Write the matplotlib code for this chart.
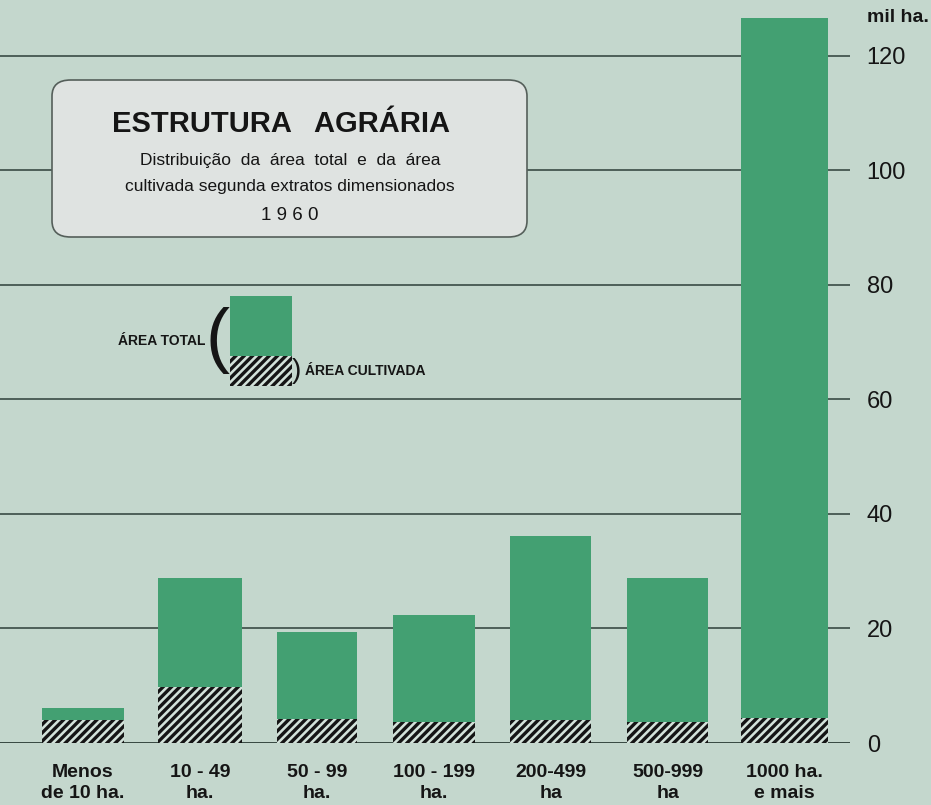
import matplotlib
matplotlib.use("Agg")
import matplotlib.pyplot as plt
from matplotlib.patches import FancyBboxPatch, Rectangle
import numpy as np

plt.rcParams['font.family'] = ['Liberation Sans', 'DejaVu Sans']
plt.rcParams['hatch.linewidth'] = 2.4

categories = ["Menos\nde 10 ha.", "10 - 49\nha.", "50 - 99\nha.", "100 - 199\nha.",
              "200-499\nha", "500-999\nha", "1000 ha.\ne mais"]
area_total = [6.1, 28.8, 19.4, 22.3, 36.1, 28.8, 126.5]
area_cultivada = [4.0, 9.8, 4.2, 3.7, 4.0, 3.6, 4.3]
yticks = [0, 20, 40, 60, 80, 100, 120]

BG = '#c4d7cd'
GREEN = '#43a072'
HATCH_FACE = '#d3e2da'
INK = '#151515'

fig = plt.figure(figsize=(9.31, 8.05), dpi=100, facecolor=BG)
ax = fig.add_axes([0.0, 62/805, 850/931, 743/805])
ax.set_facecolor(BG)

x = np.arange(len(categories))
widths = [0.70, 0.72, 0.69, 0.70, 0.69, 0.69, 0.75]
ax.bar(x, area_total, width=widths, color=GREEN, edgecolor='none', zorder=2)
ax.bar(x, area_cultivada, width=widths, color=HATCH_FACE, edgecolor=INK, linewidth=0,
       hatch='////', zorder=3)

for t in yticks[1:]:
    ax.axhline(t, color='#44564f', lw=1.3, zorder=1)
ax.axhline(0, color='#2a3a34', lw=2.0, zorder=1)

ax.set_xlim(-0.71, 6.56)
ax.set_ylim(0, 129.7)
for s in ax.spines.values():
    s.set_visible(False)
ax.yaxis.tick_right()
ax.set_yticks(yticks)
ax.set_yticklabels([str(v) for v in yticks], fontsize=17, color=INK)
ax.tick_params(axis='y', length=0, pad=12)
ax.set_xticks(x)
ax.set_xticklabels(categories, fontsize=14, color=INK, fontweight='bold',
                   linespacing=1.35)
ax.tick_params(axis='x', length=0, pad=15)

fig.text(0.998, 1 - 18/805, "mil ha.", ha='right', va='center', fontsize=14,
         fontweight='bold', color=INK)

# Title box
box = FancyBboxPatch((52/931, 1 - 237/805), 475/931, 157/805,
                     boxstyle="round,pad=0,rounding_size=0.02",
                     transform=fig.transFigure, facecolor='#dfe3e1',
                     edgecolor='#555f5a', lw=1.2, zorder=5)
fig.patches.append(box)
fig.text(281/931, 1 - 124/805, "ESTRUTURA   AGRÁRIA", ha='center',
         va='center', fontsize=21, fontweight='bold', color=INK, zorder=6)
fig.text(290/931, 1 - 160/805, "Distribuição  da  área  total  e  da  área",
         ha='center', va='center', fontsize=12.5, color=INK, zorder=6)
fig.text(290/931, 1 - 186/805, "cultivada segunda extratos dimensionados",
         ha='center', va='center', fontsize=12.5, color=INK, zorder=6)
fig.text(290/931, 1 - 216/805, "1 9 6 0", ha='center', va='center',
         fontsize=13.5, color=INK, zorder=6)

# Legend
lx, lw_ = 230/931, 62/931
fig.patches.append(Rectangle((lx, 1 - 386/805), lw_, 90/805, transform=fig.transFigure,
                             facecolor=GREEN, edgecolor='none', zorder=5))
fig.patches.append(Rectangle((lx, 1 - 386/805), lw_, 30/805, transform=fig.transFigure,
                             facecolor=HATCH_FACE, edgecolor=INK, linewidth=0,
                             hatch='////', zorder=6))
fig.text(205/931, 1 - 341/805, "ÁREA TOTAL", ha='right', va='center', fontsize=10,
         fontweight='bold', color=INK)
fig.text(218/931, 1 - 341/805, "(", ha='center', va='center', fontsize=52,
         color=INK, fontweight='light')
fig.text(296/931, 1 - 371/805, ")", ha='center', va='center', fontsize=20,
         color=INK)
fig.text(305/931, 1 - 371/805, "ÁREA CULTIVADA", ha='left', va='center', fontsize=10,
         fontweight='bold', color=INK)

fig.savefig("out.png", dpi=100, facecolor=BG)
